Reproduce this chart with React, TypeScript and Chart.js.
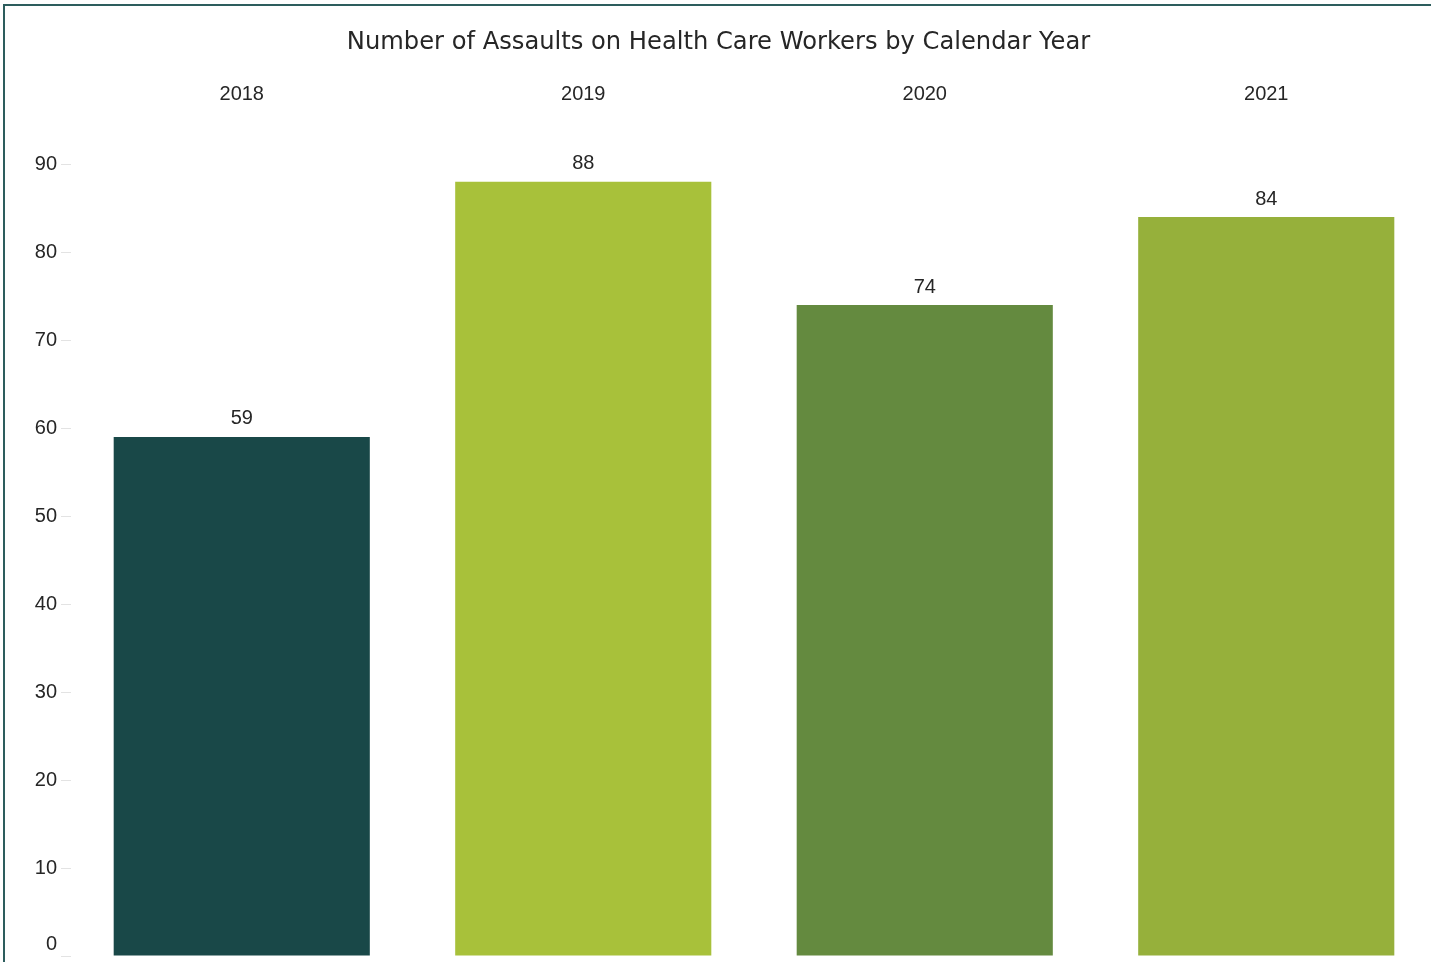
import React, { useEffect, useRef } from "react";
import { Chart, registerables } from "chart.js";

Chart.register(...registerables);

const TITLE = "Number of Assaults on Health Care Workers by Calendar Year";
const years = ["2018", "2019", "2020", "2021"];
const assaults = [59, 88, 74, 84];
const barColors = ["#194848", "#a8c13a", "#648a3f", "#96b03b"];
const yTicks = [0, 10, 20, 30, 40, 50, 60, 70, 80, 90];

const TEXT = "#262626";
const DIGIT_FONT = { family: "'Liberation Sans', Arial, sans-serif", size: 20, weight: "normal" as const };

const valueLabels = {
  id: "valueLabels",
  afterDatasetsDraw(chart: any) {
    const ctx = chart.ctx;
    const meta = chart.getDatasetMeta(0);
    ctx.save();
    ctx.font = `${DIGIT_FONT.size}px ${DIGIT_FONT.family}`;
    ctx.fillStyle = TEXT;
    ctx.textAlign = "center";
    ctx.textBaseline = "middle";
    meta.data.forEach((bar: any, i: number) => {
      ctx.fillText(String(assaults[i]), bar.x, bar.y - 18);
    });
    ctx.restore();
  },
};

const shiftZeroLabel = {
  id: "shiftZeroLabel",
  beforeDraw(chart: any) {
    const s = chart.scales.y;
    if (!s || !s.getLabelItems) return;
    const items = s.getLabelItems();
    items.forEach((it: any) => {
      if (it.label === "0" && !it.__shifted) {
        it.options.translation[1] -= 12;
        it.__shifted = true;
      }
    });
  },
};

export default function App() {
  const ref = useRef<HTMLCanvasElement | null>(null);

  useEffect(() => {
    document.body.style.margin = "0";
    document.body.style.overflow = "hidden";
    const canvas = ref.current;
    if (!canvas) return;
    const chart = new Chart(canvas, {
      type: "bar",
      data: {
        labels: years,
        datasets: [
          {
            data: assaults,
            backgroundColor: barColors,
            borderWidth: 0,
            barPercentage: 0.75,
            categoryPercentage: 1,
          },
        ],
      },
      options: {
        responsive: false,
        animation: false,
        devicePixelRatio: 1,
        layout: { padding: { top: 0, right: 3, bottom: 7, left: 0 } },
        plugins: {
          legend: { display: false },
          tooltip: { enabled: false },
          title: {
            display: true,
            text: TITLE,
            color: TEXT,
            font: { family: "'DejaVu Sans', sans-serif", size: 24.2, weight: "normal", lineHeight: 1.2 },
            padding: { top: 28, bottom: 0 },
          },
        },
        scales: {
          x: {
            position: "top",
            grid: { display: false, drawTicks: false },
            border: { display: false },
            ticks: { color: TEXT, font: DIGIT_FONT, padding: 58 },
            afterFit(scale: any) {
              scale.height = 107.2;
            },
          },
          y: {
            min: 0,
            max: 90,
            afterBuildTicks(scale: any) {
              scale.ticks = yTicks.map((v) => ({ value: v }));
            },
            grid: {
              display: true,
              drawOnChartArea: false,
              drawTicks: true,
              tickLength: 10,
              color: "#e3e3e3",
              lineWidth: 1,
            },
            border: { display: false },
            ticks: { color: TEXT, font: DIGIT_FONT, padding: 4 },
            afterFit(scale: any) {
              scale.width = 71;
            },
          },
        },
      },
      plugins: [valueLabels, shiftZeroLabel],
    });
    return () => chart.destroy();
  }, []);

  return (
    <div
      style={{
        position: "fixed",
        left: 0,
        top: 0,
        width: 1431,
        height: 962,
        overflow: "hidden",
        background: "#ffffff",
      }}
    >
      <div
        style={{
          position: "absolute",
          left: 3,
          top: 4,
          width: 1500,
          height: 1000,
          borderTop: "2px solid #2d5d5d",
          borderLeft: "2px solid #2d5d5d",
        }}
      />
      <canvas
        ref={ref}
        width={1440}
        height={972}
        style={{ position: "absolute", left: 0, top: 0, display: "block" }}
      />
    </div>
  );
}
